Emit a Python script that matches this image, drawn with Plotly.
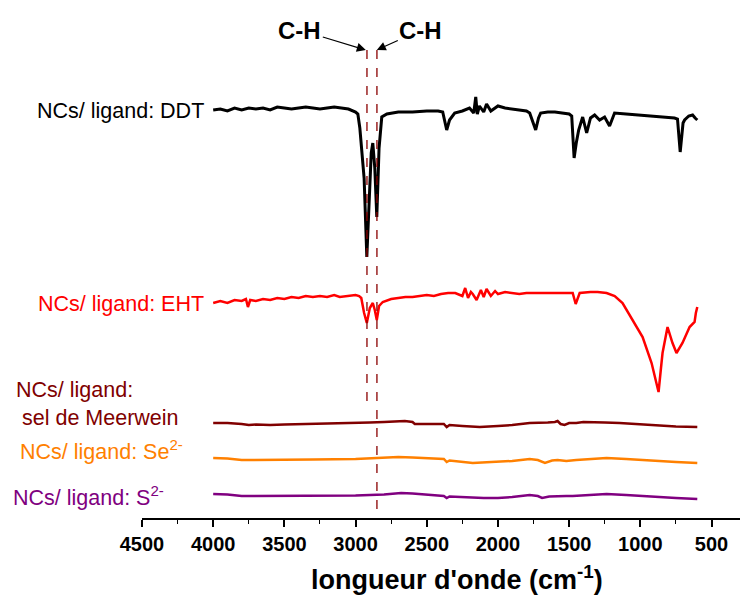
import plotly.graph_objects as go

# ---------------- data (wavenumber cm-1, stacked arbitrary intensity) -------------
wn_ddt = [4000, 3950, 3900, 3850, 3800, 3750, 3700, 3650, 3600, 3550, 3500, 3450, 3400, 3350, 3300,
          3250, 3200, 3150, 3100, 3050, 3000, 2984, 2970, 2956, 2940, 2921, 2905, 2890, 2879, 2865,
          2851, 2835, 2816, 2780, 2700, 2600, 2500, 2420, 2388, 2375, 2360, 2340, 2304, 2250, 2200,
          2170, 2156, 2145, 2130, 2100, 2080, 2050, 2000, 1950, 1900, 1850, 1800, 1777, 1755, 1735,
          1715, 1700, 1650, 1600, 1550, 1500, 1482, 1465, 1450, 1433, 1405, 1377, 1350, 1321, 1286,
          1251, 1216, 1181, 1100, 1000, 900, 800, 760, 739, 720, 700, 689, 660, 633, 615, 600]
y_ddt = [408, 409, 407, 410, 408, 410, 409, 410, 408, 411, 410, 409, 410, 411, 410,
         409, 410, 411, 410, 409, 406, 404, 390, 365, 340, 261, 320, 365, 375, 350,
         301, 370, 401, 404, 406, 406, 407, 407, 406, 398, 388, 398, 405, 407, 410,
         405, 421, 404, 412, 406, 414, 407, 412, 410, 409, 408, 407, 405, 396, 388,
         400, 405, 406, 406, 405, 404, 402, 360, 375, 388, 401, 385, 400, 403, 398,
         401, 392, 405, 404, 403, 402, 401, 400, 399, 366, 395, 398, 402, 403, 400, 398]

wn_eht = [4000, 3950, 3900, 3850, 3800, 3770, 3756, 3740, 3700, 3650, 3600, 3550, 3500, 3450, 3400,
          3350, 3300, 3250, 3200, 3150, 3111, 3050, 3000, 2975, 2960, 2940, 2921, 2900, 2879, 2865,
          2851, 2835, 2809, 2750, 2700, 2650, 2600, 2550, 2500, 2450, 2400, 2350, 2300, 2250, 2230,
          2210, 2190, 2177, 2150, 2120, 2100, 2080, 2050, 2020, 2000, 1950, 1900, 1850, 1800, 1700,
          1600, 1500, 1475, 1454, 1426, 1350, 1300, 1237, 1180, 1125, 1054, 984, 921, 890, 872,
          855, 844, 809, 774, 746, 704, 654, 619, 610, 600]
y_eht = [215, 217, 215, 218, 217, 219, 211, 218, 217, 219, 218, 220, 219, 221, 220,
         222, 221, 222, 221, 223, 221, 222, 223, 222, 220, 205, 195, 210, 215, 208,
         198, 212, 216, 219, 220, 221, 221, 222, 223, 222, 224, 225, 225, 222, 230,
         220, 226, 224, 218, 228, 221, 229, 222, 227, 224, 226, 225, 224, 225, 225,
         225, 225, 225, 214, 225, 226, 226, 225, 222, 215, 198, 181, 155, 135, 126,
         150, 165, 191, 175, 165, 175, 191, 196, 205, 211]

wn_mw = [4000, 3900, 3800, 3750, 3700, 3600, 3500, 3300, 3100, 3000, 2900, 2800, 2700, 2654, 2600,
         2584, 2450, 2380, 2360, 2340, 2250, 2128, 2000, 1900, 1777, 1700, 1650, 1600, 1581, 1560,
         1532, 1500, 1450, 1400, 1321, 1250, 1146, 1000, 865, 750, 600]
y_mw = [95, 95, 94, 93, 93.5, 93, 93.5, 94, 94.5, 95, 95.5, 96, 97, 97, 96,
        94, 94, 94, 91, 93, 92, 91, 92, 93, 95, 95, 95.5, 96, 97, 94,
        93, 95, 95, 96, 96, 95.5, 95, 93.5, 92, 91.5, 91]

wn_se = [4000, 3900, 3800, 3700, 3500, 3300, 3000, 2800, 2700, 2600, 2450, 2380, 2360, 2340, 2177,
         2000, 1900, 1777, 1720, 1670, 1620, 1581, 1520, 1450, 1350, 1237, 1100, 1000, 865, 750, 600]
y_se = [60, 59.5, 58, 58, 58, 58.5, 59, 60, 61, 60.5, 59, 59, 56, 57.5, 55,
        56, 57, 59, 58, 55, 57.5, 58, 57, 58, 59, 60, 59, 58, 57, 56, 55]

wn_s = [4000, 3900, 3800, 3700, 3500, 3300, 3000, 2800, 2680, 2600, 2450, 2380, 2360, 2340, 2100,
        2000, 1900, 1777, 1720, 1690, 1640, 1581, 1520, 1475, 1350, 1237, 1100, 1000, 900, 750, 600]
y_s = [24, 23.5, 22, 22, 22, 22.5, 22.5, 23.5, 25, 24.5, 23, 22, 20, 21.5, 20,
       20, 21, 23, 22, 20, 21.5, 22, 22, 22, 23, 24, 23, 22, 21, 20, 19]

ch_bands = [2920, 2850]
x_ticks = [4500, 4000, 3500, 3000, 2500, 2000, 1500, 1000, 500]

# ---------------- figure ----------------
FONT = "Arial, Liberation Sans, sans-serif"

series = [
    (wn_ddt, y_ddt, "#000000", 3),
    (wn_eht, y_eht, "#FF0000", 2.5),
    (wn_mw, y_mw, "#800000", 2.5),
    (wn_se, y_se, "#FF8000", 2.5),
    (wn_s, y_s, "#800080", 2.5),
]

fig = go.Figure()
for x, y, c, w in series:
    fig.add_trace(go.Scatter(x=x, y=y, mode="lines", line=dict(color=c, width=w),
                             showlegend=False, hoverinfo="skip"))

# dashed C-H lines
fig.add_shape(type="line", xref="x", yref="y", x0=ch_bands[0], x1=ch_bands[0], y0=468, y1=113,
              line=dict(color="#8B0000", width=1.3, dash="dash"))
fig.add_shape(type="line", xref="x", yref="y", x0=ch_bands[1], x1=ch_bands[1], y0=468, y1=6,
              line=dict(color="#8B0000", width=1.3, dash="dash"))

ann = []
# C-H labels with arrows
ann.append(dict(x=2928, y=468, xref="x", yref="y", ax=-66, ay=-20, text="<b>C-H</b>", showarrow=True,
                arrowhead=2, arrowsize=1.5, arrowwidth=1.2, arrowcolor="black",
                font=dict(family=FONT, size=24, color="black")))
ann.append(dict(x=2851, y=468, xref="x", yref="y", ax=44, ay=-20, text="<b>C-H</b>", showarrow=True,
                arrowhead=2, arrowsize=1.5, arrowwidth=1.2, arrowcolor="black",
                font=dict(family=FONT, size=24, color="black")))

def px(p):
    return (p - 142) / 598.0

lab_font = 21.5
ann.append(dict(x=px(206), y=407, xref="paper", yref="y", text="NCs/ ligand: DDT", showarrow=False,
                xanchor="right", yanchor="middle", font=dict(family=FONT, size=lab_font, color="#000000")))
ann.append(dict(x=px(206), y=214, xref="paper", yref="y", text="NCs/ ligand: EHT", showarrow=False,
                xanchor="right", yanchor="middle", font=dict(family=FONT, size=lab_font, color="#FF0000")))
ann.append(dict(x=px(14), y=128, xref="paper", yref="y", text="NCs/ ligand:", showarrow=False,
                xanchor="left", yanchor="middle", font=dict(family=FONT, size=lab_font, color="#800000")))
ann.append(dict(x=px(20), y=100, xref="paper", yref="y", text="sel de Meerwein", showarrow=False,
                xanchor="left", yanchor="middle", font=dict(family=FONT, size=lab_font, color="#800000")))
ann.append(dict(x=px(185), y=68, xref="paper", yref="y", text="NCs/ ligand: Se<sup>2-</sup>", showarrow=False,
                xanchor="right", yanchor="middle", font=dict(family=FONT, size=lab_font, color="#FF8000")))
ann.append(dict(x=px(166), y=22, xref="paper", yref="y", text="NCs/ ligand: S<sup>2-</sup>", showarrow=False,
                xanchor="right", yanchor="middle", font=dict(family=FONT, size=lab_font, color="#800080")))

# axis title
ann.append(dict(x=px(457), y=(518 - 578) / 518.0, xref="paper", yref="paper",
                text="<b>longueur d'onde (cm<sup>-1</sup>)</b>", showarrow=False, xanchor="center", yanchor="middle",
                font=dict(family=FONT, size=27, color="black")))

fig.update_layout(
    width=741, height=602,
    margin=dict(l=142, r=1, t=0, b=84),
    plot_bgcolor="white", paper_bgcolor="white",
    annotations=ann,
    xaxis=dict(range=[4500, 300], showline=True, linecolor="black", linewidth=1.5,
               ticks="outside", ticklen=7, tickwidth=1.5, tickcolor="black",
               tickvals=x_ticks, ticktext=[str(v) for v in x_ticks],
               minor=dict(dtick=250, tick0=250, ticks="outside", ticklen=4, tickwidth=1.2, tickcolor="black"),
               showgrid=False, zeroline=False,
               tickfont=dict(family=FONT, size=20, color="black", weight="bold")),
    yaxis=dict(range=[0, 518], visible=False, showgrid=False, zeroline=False),
)

fig.write_html("out.html", config={"displayModeBar": False},
               post_script="document.body.style.margin='0';document.body.style.padding='0';")
